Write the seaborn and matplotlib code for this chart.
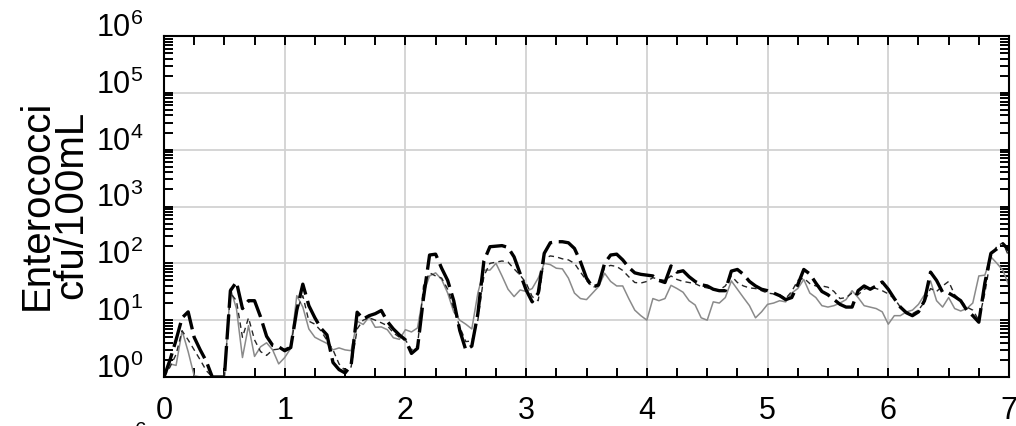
import numpy as np
import pandas as pd
import matplotlib
matplotlib.use("Agg")
import matplotlib.pyplot as plt
import seaborn as sns
from matplotlib.ticker import LogLocator, MultipleLocator, NullFormatter, FixedLocator

# ---------------- data ----------------
x_step = 0.05
x_vals = np.round(np.arange(0, 141) * x_step, 2)

# thin gray solid series
gray_vals = [
    1, 1.7, 1.6, 6.5, 2.8, 1.05, 1, 1, 1, 1, 1, 36, 16, 2.2, 8, 2.3, 3.4, 4.0, 3.0, 1.7,
    2.2, 3.2, 27, 17, 7, 5.0, 4.4, 3.9, 3.0, 3.25, 3.0, 2.9, 9.6, 8.4, 11.5, 7.5, 7.6, 6.8, 4.9, 4.6,
    6.8, 6.2, 7.3, 30, 60, 68, 52, 30, 14, 10, 8.5, 7, 30, 76, 76, 100, 60, 35, 26, 34,
    32, 36, 55, 100, 95, 82, 80, 55, 30, 24, 23, 30, 39, 67, 48, 40, 40, 24, 15, 12,
    10, 24, 22, 24, 41, 36, 31, 22, 18.5, 11, 10, 21, 20, 25, 49, 35, 25, 18, 11, 14,
    19, 20, 22, 21, 30, 36, 52, 30, 25, 18, 17, 18, 20, 23, 33, 25, 18, 17, 16, 14,
    8.5, 12, 12, 14, 15, 19, 28, 49, 22, 17, 25, 16, 14.5, 16, 20, 60, 62, 130, 100, 75,
    40,
]
# thick black long-dashed series
thick_vals = [
    1, 2.0, 4.5, 11, 14, 5.0, 3.0, 1.9, 1, 1, 1, 33, 47, 16, 22, 22, 11.4, 5.2, 3.6, 3.4,
    2.9, 3.3, 15, 43, 18, 11, 7.2, 5.5, 1.8, 1.35, 1.18, 1.6, 13.8, 10.5, 12, 13, 14.8, 9.5, 7, 5.5,
    4.5, 2.6, 3.2, 25, 140, 145, 82, 50, 22, 6.6, 3.0, 3.5, 13, 110, 196, 200, 205, 190, 130, 66,
    34, 21, 30, 150, 230, 240, 240, 230, 183, 107, 55, 38, 42, 100, 140, 145, 115, 85, 68, 64,
    62, 60, 50, 46, 90, 70, 74, 58, 48, 42, 40, 35, 33, 33, 73, 78, 64, 48, 40, 35,
    33, 30, 27, 23, 25, 42, 78, 65, 45, 32, 28, 23, 19, 17, 17, 33, 40, 35, 40, 47,
    35, 24, 17, 13.5, 12, 14, 22, 70, 50, 31, 30, 26, 22, 15, 12, 9.2, 45, 150, 180, 220,
    170,
]
# thin black short-dashed series
dash_vals = [
    1, 1.5, 2.5, 6.5, 4.5, 3.0, 2.0, 1.3, 1, 1, 1, 30, 22, 5, 11, 4.5, 2.8, 2.4, 3.0, 3.1,
    3.1, 3.5, 15, 27, 9.6, 8.5, 6.5, 4.4, 3.0, 1.7, 1.3, 1.5, 7, 10, 11, 10, 9, 8, 6, 5,
    4.5, 3, 3.5, 40, 68, 60, 55, 35, 16, 7.6, 4.2, 4.3, 10, 60, 100, 105, 110, 105, 80, 62,
    45, 26, 22, 120, 135, 130, 120, 115, 100, 70, 50, 38, 40, 85, 92, 88, 75, 58, 46, 45,
    48, 56, 52, 50, 60, 52, 48, 46, 44, 39, 37, 35, 34, 40, 60, 46, 40, 37, 36, 33,
    30, 29, 28, 24, 32, 50, 55, 44, 40, 40, 38, 32, 24, 25, 30, 28, 35, 38, 36, 33,
    29, 24, 17, 14, 13, 15, 21, 36, 32, 40, 48, 28, 22, 17, 15, 10, 30, 130, 200, 230,
    130,
]

x_ticks = [0, 1, 2, 3, 4, 5, 6, 7]
x_tick_labels = ["0", "1", "2", "3", "4", "5", "6", "7"]
y_ticks = [1, 10, 100, 1e3, 1e4, 1e5, 1e6]
y_tick_labels = [r"$\mathrm{10^{%d}}$" % k for k in range(7)]
y_label = "Enterococci\ncfu/100mL"

df = pd.DataFrame({"x": x_vals, "gray": gray_vals, "thick": thick_vals, "dash": dash_vals})

# ---------------- style ----------------
sns.set_theme(style="white")
plt.rcParams["font.family"] = ["Liberation Sans", "DejaVu Sans"]
plt.rcParams["mathtext.fontset"] = "custom"
plt.rcParams["mathtext.rm"] = "Liberation Sans"
plt.rcParams["mathtext.it"] = "Liberation Sans:italic"
plt.rcParams["mathtext.bf"] = "Liberation Sans:bold"

fig = plt.figure(figsize=(10.16, 4.27), dpi=100)
W, H = 1016, 427
ax = fig.add_axes([164 / W, 1 - 378 / H, (1009 - 164) / W, (378 - 37) / H])

sns.lineplot(data=df, x="x", y="gray", ax=ax, color="#8a8a8a", linewidth=1.1,
             estimator=None, sort=False, legend=False)
sns.lineplot(data=df, x="x", y="dash", ax=ax, color="#262626", linewidth=1.0,
             estimator=None, sort=False, legend=False)
ax.lines[-1].set_dashes((4, 3))
sns.lineplot(data=df, x="x", y="thick", ax=ax, color="black", linewidth=2.4,
             estimator=None, sort=False, legend=False)
ax.lines[-1].set_dashes((7.5, 2))

ax.set_yscale("log")
ax.set_xlim(0, 7)
ax.set_ylim(1, 1e6)

ax.xaxis.set_major_locator(FixedLocator(x_ticks))
ax.set_xticklabels(x_tick_labels)
ax.xaxis.set_minor_locator(MultipleLocator(0.25))
ax.yaxis.set_major_locator(FixedLocator(y_ticks))
ax.set_yticklabels(y_tick_labels)
ax.yaxis.set_minor_locator(LogLocator(base=10, subs=range(2, 10), numticks=50))
ax.yaxis.set_minor_formatter(NullFormatter())

ax.grid(True, which="major", color="#d2d2d2", linewidth=1.3)
ax.set_axisbelow(True)
for s in ax.spines.values():
    s.set_color("black")
    s.set_linewidth(1.5)
    s.set_visible(True)

ax.tick_params(which="both", direction="in", length=6.5, width=1.4, color="black",
               top=True, right=True, bottom=True, left=True)
ax.tick_params(axis="x", which="major", labelsize=22, pad=13, labelcolor="black")
ax.tick_params(axis="y", which="major", labelsize=22, pad=15, labelcolor="black")
for lbl in ax.get_yticklabels():
    lbl.set_verticalalignment("baseline")

ax.set_xlabel("")
ax.set_ylabel("")
fig.text(54 / W, 1 - 205 / H, y_label, rotation=90, ha="center", va="center",
         fontsize=29, linespacing=0.9, multialignment="center", color="black")

# top of the next panel's label, cut by the figure edge
fig.text(141 / W, 1 - 421 / H, "6", ha="center", va="top", fontsize=15, color="black")

fig.savefig("out.png", dpi=100)
